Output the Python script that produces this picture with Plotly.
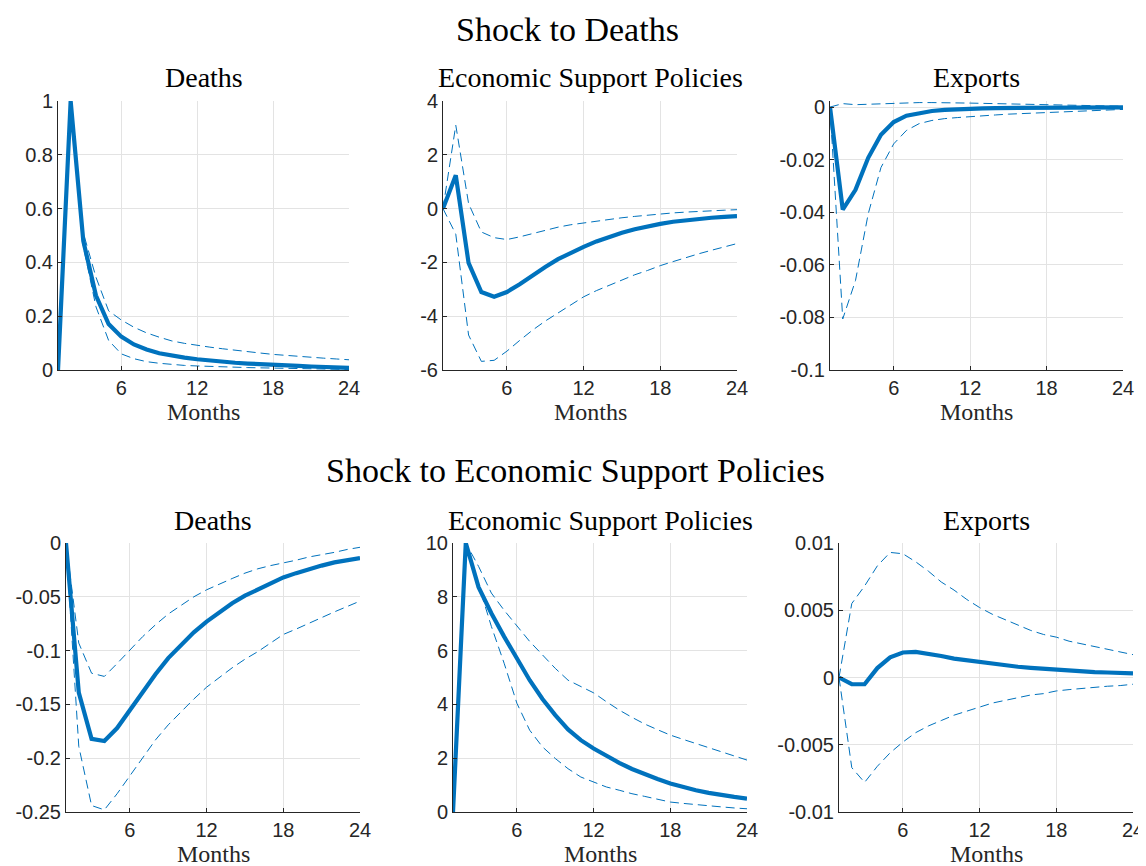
import plotly.graph_objects as go

months = list(range(1, 25))

# shock to deaths
d_deaths = [0, 1, 0.48, 0.277, 0.171, 0.124, 0.095, 0.076, 0.062, 0.053, 0.046, 0.040,
            0.035, 0.031, 0.027, 0.024, 0.021, 0.019, 0.017, 0.015, 0.013, 0.011, 0.009, 0.008]
d_deaths_hi = [0, 1, 0.51, 0.345, 0.22, 0.186, 0.159, 0.138, 0.122, 0.108, 0.099, 0.091,
               0.085, 0.079, 0.073, 0.068, 0.063, 0.058, 0.054, 0.05, 0.047, 0.044, 0.041, 0.038]
d_deaths_lo = [0, 1, 0.46, 0.235, 0.11, 0.06, 0.042, 0.031, 0.025, 0.02, 0.017, 0.015,
               0.013, 0.011, 0.010, 0.009, 0.008, 0.007, 0.006, 0.005, 0.004, 0.003, 0.003, 0.002]

d_esp = [0, 1.24, -2.02, -3.1, -3.28, -3.1, -2.81, -2.48, -2.17, -1.88, -1.64, -1.42,
         -1.22, -1.05, -0.9, -0.77, -0.66, -0.57, -0.49, -0.43, -0.38, -0.34, -0.31, -0.28]
d_esp_hi = [0, 3.1, 0.19, -0.87, -1.08, -1.15, -1.05, -0.93, -0.8, -0.69, -0.6, -0.53,
            -0.46, -0.4, -0.34, -0.29, -0.24, -0.2, -0.16, -0.13, -0.1, -0.08, -0.06, -0.04]
d_esp_lo = [0, -0.95, -4.7, -5.68, -5.64, -5.3, -4.9, -4.52, -4.18, -3.87, -3.56, -3.28,
            -3.05, -2.85, -2.65, -2.46, -2.3, -2.12, -1.97, -1.82, -1.68, -1.55, -1.42, -1.3]

d_exp = [0, -0.039, -0.0315, -0.0193, -0.0105, -0.0057, -0.0033, -0.0022, -0.0015, -0.0011, -0.0008, -0.0006,
         -0.0005, -0.0004, -0.0004, -0.0003, -0.0003, -0.0002, -0.0002, -0.0002, -0.0001, -0.0001, -0.0001, -0.0001]
d_exp_hi = [0, 0.0013, 0.0009, 0.0011, 0.0013, 0.0015, 0.0016, 0.0017, 0.0017, 0.0017, 0.0016, 0.0015,
            0.0014, 0.0013, 0.0012, 0.0011, 0.001, 0.0009, 0.0008, 0.0007, 0.0006, 0.0005, 0.0004, 0.0003]
d_exp_lo = [0, -0.0806, -0.066, -0.0406, -0.023, -0.014, -0.0089, -0.0063, -0.0051, -0.0044, -0.004, -0.0036,
            -0.0033, -0.003, -0.0027, -0.0025, -0.0023, -0.0021, -0.0019, -0.0017, -0.0015, -0.0013, -0.0011, -0.0009]

# shock to economic support policies
e_deaths = [0, -0.139, -0.182, -0.184, -0.172, -0.155, -0.138, -0.122, -0.107, -0.095, -0.083, -0.073,
            -0.064, -0.056, -0.049, -0.043, -0.037, -0.032, -0.028, -0.024, -0.021, -0.018, -0.0155, -0.014]
e_deaths_hi = [0, -0.093, -0.121, -0.124, -0.112, -0.099, -0.087, -0.076, -0.066, -0.058, -0.05, -0.0435,
               -0.038, -0.033, -0.028, -0.024, -0.021, -0.0186, -0.016, -0.013, -0.011, -0.0087, -0.006, -0.004]
e_deaths_lo = [0, -0.189, -0.244, -0.248, -0.233, -0.216, -0.199, -0.183, -0.169, -0.157, -0.145, -0.134,
               -0.125, -0.116, -0.108, -0.101, -0.093, -0.085, -0.08, -0.0745, -0.069, -0.064, -0.059, -0.054]

e_esp = [0, 10, 8.36, 7.39, 6.52, 5.68, 4.9, 4.2, 3.6, 3.07, 2.67, 2.36,
         2.08, 1.83, 1.6, 1.4, 1.23, 1.06, 0.92, 0.81, 0.71, 0.62, 0.56, 0.5]
e_esp_hi = [0, 10, 9.13, 8.14, 7.5, 6.9, 6.34, 5.84, 5.34, 4.9, 4.66, 4.43,
            4.1, 3.79, 3.52, 3.27, 3.06, 2.86, 2.7, 2.55, 2.39, 2.24, 2.08, 1.93]
e_esp_lo = [0, 10, 8.45, 6.9, 5.53, 4.04, 3.04, 2.42, 1.99, 1.61, 1.3, 1.12,
            0.93, 0.81, 0.68, 0.58, 0.47, 0.37, 0.32, 0.27, 0.23, 0.19, 0.15, 0.12]

e_exp = [0, -0.0005, -0.0005, 0.0007, 0.0015, 0.00186, 0.0019, 0.00176, 0.0016, 0.0014, 0.00127, 0.00112,
         0.001, 0.0009, 0.0008, 0.00072, 0.00065, 0.00057, 0.0005, 0.00045, 0.0004, 0.00037, 0.00033, 0.0003]
e_exp_hi = [0, 0.0055, 0.0068, 0.0083, 0.0093, 0.0092, 0.0086, 0.0079, 0.0071, 0.0065, 0.0058, 0.0052,
            0.0047, 0.0043, 0.0039, 0.0035, 0.0032, 0.003, 0.0027, 0.0025, 0.0023, 0.0021, 0.0019, 0.0017]
e_exp_lo = [0, -0.0067, -0.0078, -0.0066, -0.0056, -0.0048, -0.0041, -0.0036, -0.0032, -0.0028, -0.0025, -0.0022,
            -0.0019, -0.0017, -0.0015, -0.0013, -0.0012, -0.001, -0.0009, -0.0008, -0.0007, -0.00065, -0.0006, -0.0005]

panel_titles = ['Deaths', 'Economic Support Policies', 'Exports']
row_titles = ['Shock to Deaths', 'Shock to Economic Support Policies']
x_ticks = [6, 12, 18, 24]

yticks = [
    ([0, 0.2, 0.4, 0.6, 0.8, 1], ['0', '0.2', '0.4', '0.6', '0.8', '1']),
    ([-6, -4, -2, 0, 2, 4], ['-6', '-4', '-2', '0', '2', '4']),
    ([-0.1, -0.08, -0.06, -0.04, -0.02, 0], ['-0.1', '-0.08', '-0.06', '-0.04', '-0.02', '0']),
    ([-0.25, -0.2, -0.15, -0.1, -0.05, 0], ['-0.25', '-0.2', '-0.15', '-0.1', '-0.05', '0']),
    ([0, 2, 4, 6, 8, 10], ['0', '2', '4', '6', '8', '10']),
    ([-0.01, -0.005, 0, 0.005, 0.01], ['-0.01', '-0.005', '0', '0.005', '0.01']),
]
yranges = [[0, 1], [-6, 4], [-0.1, 0.0023], [-0.25, 0], [0, 10], [-0.01, 0.01]]

series = [
    (d_deaths, d_deaths_hi, d_deaths_lo),
    (d_esp, d_esp_hi, d_esp_lo),
    (d_exp, d_exp_hi, d_exp_lo),
    (e_deaths, e_deaths_hi, e_deaths_lo),
    (e_esp, e_esp_hi, e_esp_lo),
    (e_exp, e_exp_hi, e_exp_lo),
]

W, H = 1146, 866
OFF = 8  # page body margin, shift everything back by this
# pixel boxes of the axes in the target picture (left, right, top, bottom)
boxes = [(58, 349, 101, 370), (443, 737, 101, 370), (830, 1123, 101, 370),
         (66, 360, 543, 812), (453, 747, 543, 812), (839, 1133, 543, 812)]


def px(x):
    return (x - OFF) / W


def py(y):
    return 1 - (y - OFF) / H


blue = '#0072BD'
ink = '#262626'
grid = '#e3e3e3'
serif = 'Liberation Serif, Times New Roman, serif'
sans = 'Liberation Sans, Arial, sans-serif'

fig = go.Figure()
layout = dict(width=W, height=H, margin=dict(l=0, r=0, t=0, b=0, autoexpand=False),
              paper_bgcolor='white', plot_bgcolor='white', showlegend=False)
annotations = []

for i in range(6):
    n = '' if i == 0 else str(i + 1)
    mid, hi, lo = series[i]
    for band in (hi, lo):
        fig.add_trace(go.Scatter(x=months, y=band, mode='lines', xaxis='x' + n, yaxis='y' + n,
                                 line=dict(color=blue, width=1, dash='9px,5px')))
    fig.add_trace(go.Scatter(x=months, y=mid, mode='lines', xaxis='x' + n, yaxis='y' + n,
                             line=dict(color=blue, width=4.2)))

    l, r, t, b = boxes[i]
    layout['xaxis' + n] = dict(domain=[px(l), px(r)], anchor='y' + n, range=[1, 24],
                               tickvals=x_ticks, ticktext=[str(v) for v in x_ticks],
                               showgrid=True, gridcolor=grid, zeroline=False, automargin=False,
                               showline=True, linecolor=ink, linewidth=1,
                               ticks='inside', ticklen=4, tickcolor=ink,
                               tickfont=dict(family=sans, size=20, color=ink))
    layout['yaxis' + n] = dict(domain=[py(b), py(t)], anchor='x' + n, range=yranges[i],
                               tickvals=yticks[i][0], ticktext=yticks[i][1],
                               showgrid=True, gridcolor=grid, zeroline=False, automargin=False,
                               showline=True, linecolor=ink, linewidth=1,
                               ticks='inside', ticklen=4, tickcolor=ink,
                               tickfont=dict(family=sans, size=20, color=ink))

    cx = px((l + r) / 2)
    annotations.append(dict(text=panel_titles[i % 3], x=cx, y=py(t - 23), xref='paper', yref='paper',
                            showarrow=False, xanchor='center', yanchor='middle',
                            font=dict(family=serif, size=28, color='black')))
    annotations.append(dict(text='Months', x=cx, y=py(b + 42), xref='paper', yref='paper',
                            showarrow=False, xanchor='center', yanchor='middle',
                            font=dict(family=serif, size=24, color=ink)))

annotations.append(dict(text=row_titles[0], x=px(567), y=py(29), xref='paper', yref='paper',
                        showarrow=False, xanchor='center', yanchor='middle',
                        font=dict(family=serif, size=34, color='black')))
annotations.append(dict(text=row_titles[1], x=px(575), y=py(470), xref='paper', yref='paper',
                        showarrow=False, xanchor='center', yanchor='middle',
                        font=dict(family=serif, size=34, color='black')))

layout['annotations'] = annotations
fig.update_layout(**layout)

fig.write_html("out.html")
